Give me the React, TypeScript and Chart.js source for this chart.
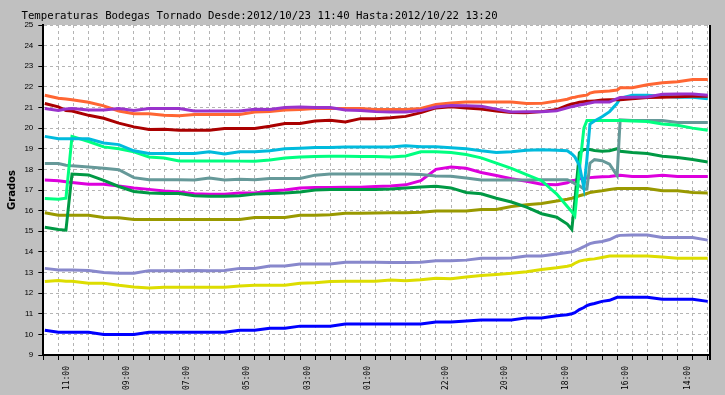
import { useEffect, useRef } from 'react';
import { Chart, registerables } from 'chart.js';

Chart.register(...registerables);

// x positions: sample slots (one slot = one minor tick, ~30 min, time runs right-to-left)
const slots = [0.1, 1, 1.5, 1.9, 3, 4, 5, 6, 7, 8, 9, 10, 11, 12, 13, 14, 15, 16, 17, 18, 19, 20, 21, 22, 23, 24, 25, 26, 27, 28, 29, 30, 31, 32, 33, 34, 34.7, 35, 35.2, 35.5, 35.8, 36, 36.2, 36.5, 37, 37.5, 38, 38.2, 39, 40, 41, 42, 43, 44];
const xMax = 44.15;

const tickLabels = ['11:00', '09:00', '07:00', '05:00', '03:00', '01:00', '22:00', '20:00', '18:00', '16:00', '14:00'];
const tickLabelSlots = [1.55, 5.52, 9.5, 13.5, 17.53, 21.52, 26.65, 30.58, 34.6, 38.6, 42.7];

const yTicksMin = 9;
const yTicksMax = 25;

const TITLE = 'Temperaturas Bodegas Tornado Desde:2012/10/23 11:40 Hasta:2012/10/22 13:20';
const Y_TITLE = 'Grados';

const orange = [
  21.59, 21.45, 21.41, 21.38, 21.25, 21.08, 20.83, 20.7, 20.7, 20.62,
  20.6, 20.66, 20.66, 20.66, 20.66, 20.78, 20.8, 20.88, 20.9, 20.95,
  20.95, 20.95, 20.95, 20.9, 20.9, 20.9, 20.95, 21.15, 21.22, 21.27,
  21.27, 21.27, 21.27, 21.19, 21.2, 21.31, 21.4, 21.48, 21.5, 21.55,
  21.58, 21.6, 21.7, 21.75, 21.78, 21.8, 21.85, 21.96, 21.96, 22.1,
  22.2, 22.25, 22.36, 22.36];

const darkRed = [
  21.19, 21.03, 20.85, 20.83, 20.62, 20.48, 20.24, 20.06, 19.93, 19.95,
  19.9, 19.9, 19.9, 19.98, 19.98, 19.98, 20.09, 20.22, 20.22, 20.35,
  20.38, 20.3, 20.46, 20.46, 20.5, 20.57, 20.75, 20.98, 21.04, 20.98,
  20.93, 20.83, 20.76, 20.75, 20.8, 20.9, 21.1, 21.17, 21.2, 21.25,
  21.28, 21.3, 21.3, 21.32, 21.36, 21.38, 21.38, 21.38, 21.42, 21.48,
  21.5, 21.52, 21.54, 21.54];

const purple = [
  20.95, 20.86, 20.93, 20.95, 20.88, 20.88, 20.95, 20.85, 20.95, 20.95,
  20.95, 20.83, 20.83, 20.83, 20.83, 20.92, 20.9, 21.0, 21.02, 21.0,
  21.0, 20.88, 20.86, 20.8, 20.78, 20.78, 20.85, 21.02, 21.1, 21.08,
  21.06, 20.92, 20.78, 20.8, 20.8, 20.84, 20.98, 21.04, 21.07, 21.12,
  21.16, 21.19, 21.22, 21.27, 21.27, 21.27, 21.43, 21.48, 21.5, 21.51,
  21.64, 21.66, 21.66, 21.59];

const cyan = [
  19.6, 19.48, 19.48, 19.48, 19.48, 19.28, 19.2, 18.9, 18.77, 18.77,
  18.77, 18.77, 18.85, 18.75, 18.85, 18.85, 18.9, 19.0, 19.03, 19.06,
  19.06, 19.08, 19.08, 19.08, 19.09, 19.15, 19.1, 19.1, 19.05, 19.0,
  18.9, 18.82, 18.85, 18.93, 18.95, 18.93, 18.9, 18.75, 18.6, 18.2,
  17.1, 18.5, 20.2, 20.35, 20.55, 20.8, 21.2, 21.45, 21.6, 21.6,
  21.55, 21.5, 21.5, 21.42];

const springGreen = [
  16.59, 16.55, 16.6, 19.6, 19.35, 19.09, 19.0, 18.85, 18.6, 18.55,
  18.41, 18.41, 18.41, 18.41, 18.4, 18.4, 18.45, 18.55, 18.6, 18.62,
  18.64, 18.64, 18.62, 18.62, 18.6, 18.65, 18.85, 18.85, 18.82, 18.72,
  18.56, 18.3, 18.05, 17.75, 17.45, 16.8, 16.2, 15.95, 15.75, 18.0,
  20.0, 20.37, 20.37, 20.37, 20.37, 20.37, 20.37, 20.37, 20.35, 20.32,
  20.2, 20.14, 20.0, 19.9];

const teal = [
  18.28, 18.28, 18.2, 18.17, 18.12, 18.06, 17.98, 17.6, 17.5, 17.5,
  17.5, 17.48, 17.58, 17.48, 17.52, 17.5, 17.56, 17.56, 17.56, 17.72,
  17.77, 17.77, 17.77, 17.77, 17.77, 17.77, 17.75, 17.68, 17.67, 17.58,
  17.48, 17.48, 17.48, 17.48, 17.5, 17.5, 17.5, 17.4, 17.3, 17.2,
  17.05, 17.05, 18.3, 18.47, 18.42, 18.25, 17.7, 20.4, 20.37, 20.37,
  20.37, 20.27, 20.27, 20.27];

const darkGreen = [
  15.19, 15.09, 15.05, 17.77, 17.73, 17.47, 17.17, 16.93, 16.86, 16.83,
  16.83, 16.72, 16.7, 16.7, 16.72, 16.8, 16.83, 16.85, 16.9, 17.0,
  17.02, 17.03, 17.03, 17.03, 17.05, 17.1, 17.15, 17.18, 17.1, 16.88,
  16.82, 16.6, 16.42, 16.17, 15.85, 15.68, 15.35, 15.09, 16.5, 18.8,
  18.96, 18.96, 18.96, 18.92, 18.88, 18.9, 19.0, 18.88, 18.82, 18.77,
  18.64, 18.58, 18.48, 18.36];

const magenta = [
  17.48, 17.45, 17.4, 17.36, 17.28, 17.28, 17.19, 17.1, 17.03, 16.95,
  16.9, 16.82, 16.8, 16.8, 16.85, 16.85, 16.95, 17.0, 17.1, 17.12,
  17.12, 17.13, 17.13, 17.17, 17.19, 17.25, 17.45, 18.0, 18.12, 18.05,
  17.85, 17.7, 17.55, 17.42, 17.28, 17.25, 17.35, 17.45, 17.48, 17.55,
  17.56, 17.58, 17.6, 17.62, 17.64, 17.66, 17.7, 17.72, 17.66, 17.66,
  17.72, 17.66, 17.66, 17.66];

const olive = [
  15.9, 15.78, 15.78, 15.78, 15.78, 15.67, 15.65, 15.57, 15.57, 15.57,
  15.57, 15.57, 15.57, 15.57, 15.57, 15.67, 15.67, 15.67, 15.78, 15.78,
  15.8, 15.87, 15.87, 15.88, 15.9, 15.9, 15.92, 15.98, 15.98, 15.98,
  16.06, 16.06, 16.2, 16.28, 16.35, 16.47, 16.55, 16.6, 16.65, 16.72,
  16.78, 16.83, 16.88, 16.92, 16.96, 17.02, 17.07, 17.07, 17.07, 17.07,
  16.96, 16.96, 16.88, 16.86];

const lavender = [
  13.2, 13.12, 13.12, 13.12, 13.1, 13.0, 12.96, 12.96, 13.09, 13.09,
  13.09, 13.1, 13.09, 13.1, 13.2, 13.2, 13.32, 13.32, 13.41, 13.41,
  13.41, 13.5, 13.5, 13.5, 13.48, 13.48, 13.5, 13.57, 13.57, 13.6,
  13.69, 13.69, 13.7, 13.8, 13.8, 13.9, 13.97, 14.0, 14.05, 14.15,
  14.25, 14.33, 14.4, 14.45, 14.5, 14.6, 14.77, 14.8, 14.82, 14.82,
  14.7, 14.7, 14.7, 14.57];

const yellow = [
  12.56, 12.61, 12.58, 12.58, 12.48, 12.48, 12.38, 12.3, 12.25, 12.29,
  12.29, 12.29, 12.29, 12.29, 12.35, 12.38, 12.38, 12.38, 12.48, 12.5,
  12.56, 12.58, 12.58, 12.58, 12.64, 12.6, 12.65, 12.72, 12.7, 12.78,
  12.85, 12.9, 12.96, 13.04, 13.15, 13.23, 13.3, 13.36, 13.45, 13.55,
  13.6, 13.62, 13.64, 13.66, 13.73, 13.8, 13.8, 13.8, 13.8, 13.8,
  13.75, 13.69, 13.69, 13.69];

const blue = [
  10.2, 10.1, 10.1, 10.1, 10.1, 10.0, 10.0, 10.0, 10.1, 10.1,
  10.1, 10.1, 10.1, 10.1, 10.2, 10.2, 10.3, 10.3, 10.4, 10.4,
  10.4, 10.5, 10.5, 10.5, 10.5, 10.5, 10.5, 10.6, 10.6, 10.65,
  10.7, 10.7, 10.7, 10.8, 10.8, 10.9, 10.95, 11.0, 11.05, 11.2,
  11.3, 11.4, 11.45, 11.5, 11.6, 11.65, 11.8, 11.8, 11.8, 11.8,
  11.7, 11.7, 11.7, 11.6];

const series = [
  { name: 'S1', values: purple, color: '#9933CC' },
  { name: 'S2', values: darkRed, color: '#AA0000' },
  { name: 'S3', values: orange, color: '#FF6633' },
  { name: 'S4', values: cyan, color: '#00BBDD' },
  { name: 'S5', values: springGreen, color: '#00FF80' },
  { name: 'S6', values: teal, color: '#669999' },
  { name: 'S7', values: darkGreen, color: '#009944' },
  { name: 'S8', values: magenta, color: '#DD00DD' },
  { name: 'S9', values: olive, color: '#999900' },
  { name: 'S10', values: lavender, color: '#8888CC' },
  { name: 'S11', values: yellow, color: '#DDDD00' },
  { name: 'S12', values: blue, color: '#0000FF' },
];

const isLabelSlot = (v: number) => tickLabelSlots.indexOf(v) >= 0;

const decor = {
  id: 'decor',
  beforeDraw(chart: any) {
    const { ctx, chartArea: a, width, height } = chart;
    ctx.save();
    ctx.fillStyle = '#c0c0c0';
    ctx.fillRect(0, 0, width, height);
    ctx.fillStyle = '#ffffff';
    ctx.fillRect(a.left, a.top, a.right - a.left, a.bottom - a.top);
    ctx.restore();
  },
  afterDraw(chart: any) {
    const { ctx, chartArea: a } = chart;
    ctx.save();
    ctx.strokeStyle = '#000';
    ctx.lineWidth = 2;
    ctx.beginPath();
    ctx.moveTo(a.right, a.top);
    ctx.lineTo(a.right, a.bottom + 5);
    ctx.stroke();
    ctx.fillStyle = '#000';
    ctx.font = '10.7px "DejaVu Sans Mono"';
    ctx.textAlign = 'left';
    ctx.textBaseline = 'alphabetic';
    ctx.fillText(TITLE, 21.5, 18.5);
    ctx.translate(12, (a.top + a.bottom) / 2);
    ctx.rotate(-Math.PI / 2);
    ctx.font = 'bold 10px "DejaVu Sans"';
    ctx.textAlign = 'center';
    ctx.textBaseline = 'middle';
    ctx.fillText(Y_TITLE, 0, 0);
    ctx.restore();
  },
};

export default function App() {
  const ref = useRef<HTMLCanvasElement | null>(null);
  useEffect(() => {
    if (!ref.current) return;
    const chart = new Chart(ref.current, {
      type: 'line',
      data: {
        datasets: series.map((s) => ({
          label: s.name,
          data: slots.map((x, i) => ({ x, y: s.values[i] })),
          borderColor: s.color,
          backgroundColor: s.color,
          borderWidth: 3,
          pointRadius: 0,
          tension: 0,
          fill: false,
        })),
      },
      options: {
        animation: false,
        responsive: false,
        maintainAspectRatio: false,
        layout: { padding: { top: 25, right: 15, left: 0, bottom: 0 } },
        plugins: { legend: { display: false }, tooltip: { enabled: false }, title: { display: false } },
        scales: {
          x: {
            type: 'linear',
            min: 0,
            max: xMax,
            afterBuildTicks: (scale: any) => {
              const t: { value: number }[] = [];
              for (let i = 0; i <= Math.floor(xMax); i++) t.push({ value: i });
              tickLabelSlots.forEach((v) => t.push({ value: v }));
              t.sort((p, q) => p.value - q.value);
              scale.ticks = t;
            },
            afterFit: (scale: any) => {
              scale.height = 40;
            },
            ticks: {
              autoSkip: false,
              minRotation: 90,
              maxRotation: 90,
              padding: 6,
              color: '#000',
              font: { family: 'DejaVu Sans Mono', size: 8 },
              callback: (value: any) => {
                const i = tickLabelSlots.indexOf(Number(value));
                return i >= 0 ? tickLabels[i] : '';
              },
            },
            grid: {
              color: (c: any) => (c.tick && isLabelSlot(c.tick.value) ? 'rgba(0,0,0,0)' : '#b4b4b4'),
              tickColor: (c: any) => (c.tick && isLabelSlot(c.tick.value) ? 'rgba(0,0,0,0)' : '#000'),
              tickLength: 5,
              lineWidth: 1,
            },
            border: { display: true, color: '#000', width: 2, dash: [3, 3] },
          },
          y: {
            type: 'linear',
            min: yTicksMin,
            max: yTicksMax,
            afterFit: (scale: any) => {
              scale.width = 43.3;
            },
            ticks: {
              stepSize: 1,
              padding: 5,
              color: '#000',
              font: { family: 'Liberation Sans', size: 8 },
            },
            grid: { color: '#b4b4b4', tickColor: '#000', tickLength: 5, lineWidth: 1 },
            border: { display: true, color: '#000', width: 2, dash: [3, 3] },
          },
        },
      },
      plugins: [decor],
    } as any);
    return () => chart.destroy();
  }, []);
  return (
    <div style={{ position: 'fixed', left: 0, top: 0, width: 725, height: 395, background: '#c0c0c0' }}>
      <canvas ref={ref} width={725} height={395} style={{ display: 'block', width: 725, height: 395 }} />
    </div>
  );
}
